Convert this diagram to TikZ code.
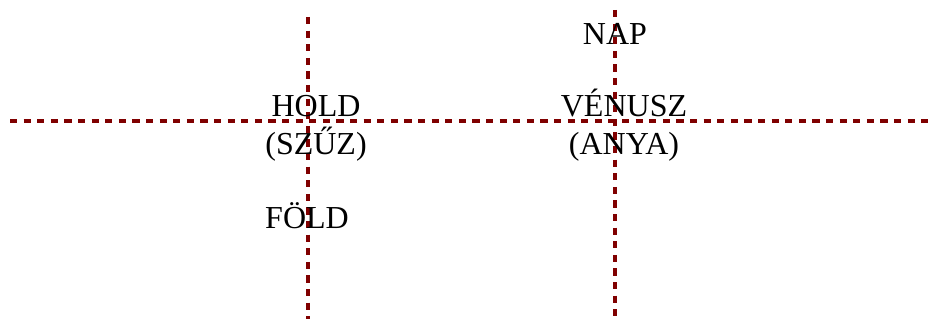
\documentclass[tikz,border=0pt]{standalone}
\usepackage{fontspec}
\setmainfont{Liberation Serif}
\usetikzlibrary{positioning}

\begin{document}
\begin{tikzpicture}[x=0.75pt, y=-0.75pt,
            axis/.style={line width=2.6pt, draw={rgb,255:red,128;green,0;blue,0}, dash pattern=on 5.4pt off 4.8pt},
            body/.style={font=\fontsize{24}{28}\selectfont, align=center, anchor=base, inner sep=0pt}]
            \useasboundingbox (0,0) rectangle (929,321);

            % End points of the dotted axes
            \coordinate (hleft) at (10,121);
            \coordinate (hright) at (929,121);
            \coordinate (ltop) at (308,17);
            \coordinate (lbottom) at (308,319);
            \coordinate (rtop) at (615,10);
            \coordinate (rbottom) at (615,317);

            % Axes
            \draw[axis] (hleft) -- (hright);
            \draw[axis] (ltop) -- (lbottom);
            \draw[axis] (rtop) -- (rbottom);

            % Labels (base = last line)
            \node[body] (nap) at (615,45) {NAP};
            \node[body] (hold) at (316,154) {HOLD\\(SZŰZ)};
            \node[body] (venusz) at (624,154) {VÉNUSZ\\(ANYA)};
            \node[body] (fold) at (307,228) {FÖLD};
        \end{tikzpicture}
\end{document}
